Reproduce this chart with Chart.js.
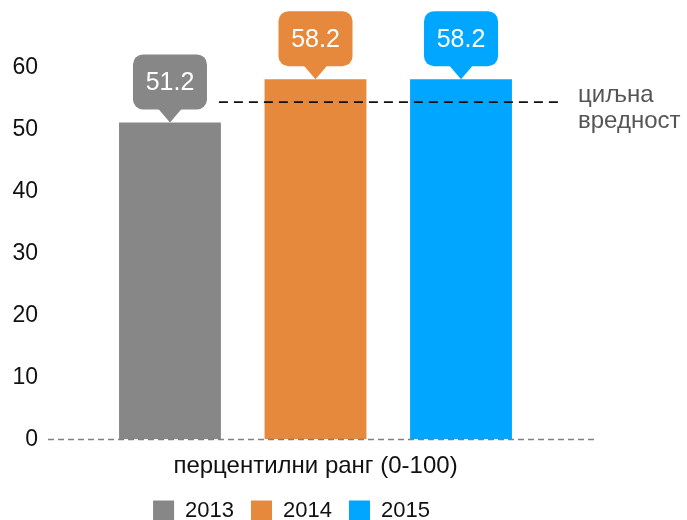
<!DOCTYPE html>
<html>
<head>
<meta charset="utf-8">
<script src="https://cdn.jsdelivr.net/npm/chart.js@4.4.1/dist/chart.umd.min.js"></script>
<style>
html,body{margin:0;padding:0;background:#fff;}
#wrap{width:687px;height:520px;position:relative;}
</style>
</head>
<body>
<div id="wrap"><canvas id="c"></canvas></div>
<script>
const categories = ["перцентилни ранг (0-100)"];
const years = ["2013", "2014", "2015"];
const values = [51.2, 58.2, 58.2];
const colors = ["#878787", "#E6893C", "#00A6FF"];
const targetValue = 54.5;
const targetLabel = ["циљна", "вредност"];
const yTicks = [0, 10, 20, 30, 40, 50, 60];

const FONT = "'Liberation Sans', Arial, sans-serif";

const overlay = {
  id: 'overlay',
  afterDatasetsDraw(chart) {
    const ctx = chart.ctx;
    const area = chart.chartArea;
    const y = chart.scales.y;
    // zero baseline
    ctx.save();
    ctx.strokeStyle = '#808080';
    ctx.lineWidth = 1.5;
    ctx.setLineDash([6, 4]);
    const y0 = Math.round(y.getPixelForValue(0)) + 0.5;
    ctx.beginPath();
    ctx.moveTo(area.left, y0);
    ctx.lineTo(area.right + 12, y0);
    ctx.stroke();
    ctx.restore();

    // target line
    const firstBar = chart.getDatasetMeta(0).data[0];
    const yt = y.getPixelForValue(targetValue);
    const textX = area.right - 5;
    ctx.save();
    ctx.strokeStyle = '#111';
    ctx.lineWidth = 1.8;
    ctx.setLineDash([9, 6]);
    ctx.beginPath();
    ctx.moveTo(firstBar.x + firstBar.width / 2 - 2, yt);
    ctx.lineTo(textX - 18, yt);
    ctx.stroke();
    ctx.restore();

    ctx.save();
    ctx.fillStyle = '#555';
    ctx.font = '24px ' + FONT;
    ctx.textBaseline = 'middle';
    ctx.textAlign = 'left';
    ctx.fillText(targetLabel[0], textX, yt - 7);
    ctx.fillText(targetLabel[1], textX, yt + 19);
    ctx.restore();

    // callouts
    chart.data.datasets.forEach((ds, i) => {
      const bar = chart.getDatasetMeta(i).data[0];
      const w = 74, h = 55, r = 10, gap = 13, pw = 12;
      const cx = bar.x;
      const bottom = bar.y - gap;
      const top = bottom - h;
      const left = cx - w / 2;
      ctx.save();
      ctx.fillStyle = ds.backgroundColor;
      ctx.beginPath();
      ctx.roundRect(left, top, w, h, r);
      ctx.fill();
      ctx.beginPath();
      ctx.moveTo(cx - pw, bottom - 1);
      ctx.lineTo(cx + pw, bottom - 1);
      ctx.lineTo(cx, bar.y);
      ctx.closePath();
      ctx.fill();
      ctx.fillStyle = '#fff';
      ctx.font = '25px ' + FONT;
      ctx.textAlign = 'center';
      ctx.textBaseline = 'middle';
      ctx.fillText(ds.data[0].toFixed(1), cx, top + h / 2 + 1);
      ctx.restore();
    });
  }
};

new Chart(document.getElementById('c'), {
  type: 'bar',
  data: {
    labels: categories,
    datasets: years.map((yr, i) => ({
      label: yr,
      data: [values[i]],
      backgroundColor: colors[i],
      borderWidth: 0,
      categoryPercentage: 0.816,
      barPercentage: 0.70
    }))
  },
  options: {
    responsive: true,
    maintainAspectRatio: false,
    animation: false,
    layout: { padding: { top: 68, right: 104, left: 0, bottom: -12 } },
    scales: {
      x: {
        grid: { display: false, drawTicks: false },
        border: { display: false },
        ticks: { display: false },
        title: {
          display: true,
          text: categories[0],
          color: '#111',
          font: { family: FONT, size: 24 },
          padding: { top: 13, bottom: 2 }
        }
      },
      y: {
        min: 0, max: 60,
        afterBuildTicks(s) { s.ticks = yTicks.map(v => ({ value: v })); },
        afterFit(s) { s.width = 48; },
        grid: { display: false, drawTicks: false },
        border: { display: false },
        ticks: {
          color: '#111',
          padding: 10,
          font: { family: FONT, size: 23 }
        }
      }
    },
    plugins: {
      legend: {
        position: 'bottom',
        labels: {
          boxWidth: 21,
          boxHeight: 21,
          padding: 17,
          color: '#111',
          font: { family: FONT, size: 22 }
        }
      },
      tooltip: { enabled: false }
    }
  },
  plugins: [overlay]
});
</script>
</body>
</html>
